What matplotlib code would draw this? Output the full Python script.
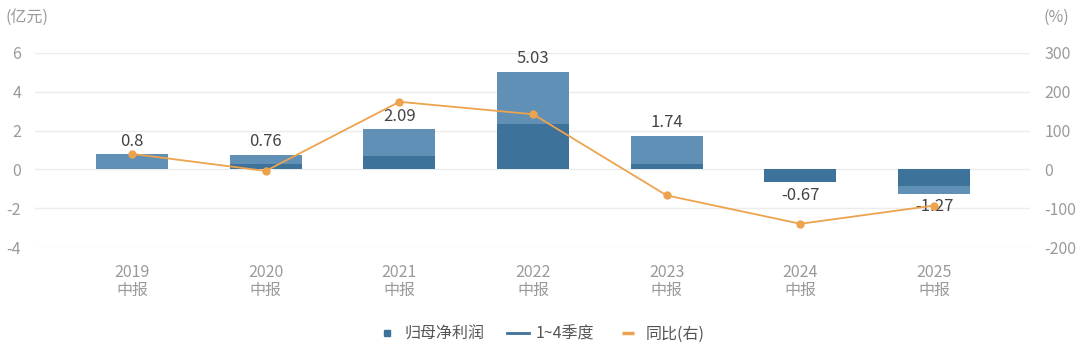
import matplotlib.pyplot as plt
from matplotlib.lines import Line2D

plt.rcParams['font.family'] = ['Noto Sans CJK SC', 'DejaVu Sans']
plt.rcParams['axes.unicode_minus'] = False

periods = ["2019\n中报", "2020\n中报", "2021\n中报", "2022\n中报", "2023\n中报", "2024\n中报", "2025\n中报"]
net_profit = [0.8, 0.76, 2.09, 5.03, 1.74, -0.67, -1.27]
q_part = [0, 0.26, 0.69, 2.33, 0.29, -0.67, -0.83]
yoy = [40, -4, 174, 142, -67, -140, -93]

light_blue = "#6090b6"
dark_blue = "#3d729b"
orange = "#eda34e"
grey = "#9a9a9a"

fig = plt.figure(figsize=(10.8, 3.5), dpi=100)
ax = fig.add_axes([0.0324, 0.294, 0.9216, 0.555])
ax2 = ax.twinx()

x = list(range(len(periods)))
ax.bar(x, net_profit, width=0.54, color=light_blue, zorder=2)
ax.bar(x, q_part, width=0.54, color=dark_blue, zorder=3)

for xi, v in zip(x, net_profit):
    off = 0.22 if v >= 0 else -0.22
    ax.text(xi, v + off, f"{v:g}", ha="center", va="bottom" if v >= 0 else "top",
            fontsize=12, color="#444444", zorder=5)

ax2.plot(x, yoy, color=orange, lw=1.3, marker="o", ms=5, zorder=4)

ax.set_ylim(-4, 6)
ax.set_yticks([-4, -2, 0, 2, 4, 6])
ax2.set_ylim(-200, 300)
ax2.set_yticks([-200, -100, 0, 100, 200, 300])
ax.set_xlim(-0.726, 6.72)
ax.set_xticks(x)
ax.set_xticklabels(periods, fontsize=11.5, color=grey, linespacing=1.1)

ax.grid(axis="y", color="#ececec", lw=1, zorder=0)
ax.set_axisbelow(True)
for a in (ax, ax2):
    for s in a.spines.values():
        s.set_visible(False)
    a.tick_params(length=0, labelsize=11.5, labelcolor=grey)
ax.tick_params(axis="y", pad=10)
ax.tick_params(axis="x", pad=12)
ax2.tick_params(axis="y", pad=10)

# keep the line above the bars
ax.set_zorder(ax2.get_zorder() - 1)
ax.patch.set_visible(False)
ax2.patch.set_visible(False)
ax2.set_zorder(2)

fig.text(0.005, 0.95, "(亿元)", fontsize=11.5, color=grey, va="center")
fig.text(0.966, 0.95, "(%)", fontsize=11.5, color=grey, va="center")

handles = [
    Line2D([], [], marker="s", ls="none", color=dark_blue, ms=5),
    Line2D([], [], color=dark_blue, lw=2),
    Line2D([], [], marker="_", ls="none", color=orange, ms=9, mew=2.5),
]
labels = ["归母净利润", "1~4季度", "同比(右)"]
leg = fig.legend(handles, labels, loc="center", bbox_to_anchor=(0.5, 0.045), ncol=3,
                 frameon=False, fontsize=11.5, handlelength=1.4, columnspacing=1.4,
                 handletextpad=0.4)
for t in leg.get_texts():
    t.set_color("#555555")

fig.savefig("out.png", dpi=100)
